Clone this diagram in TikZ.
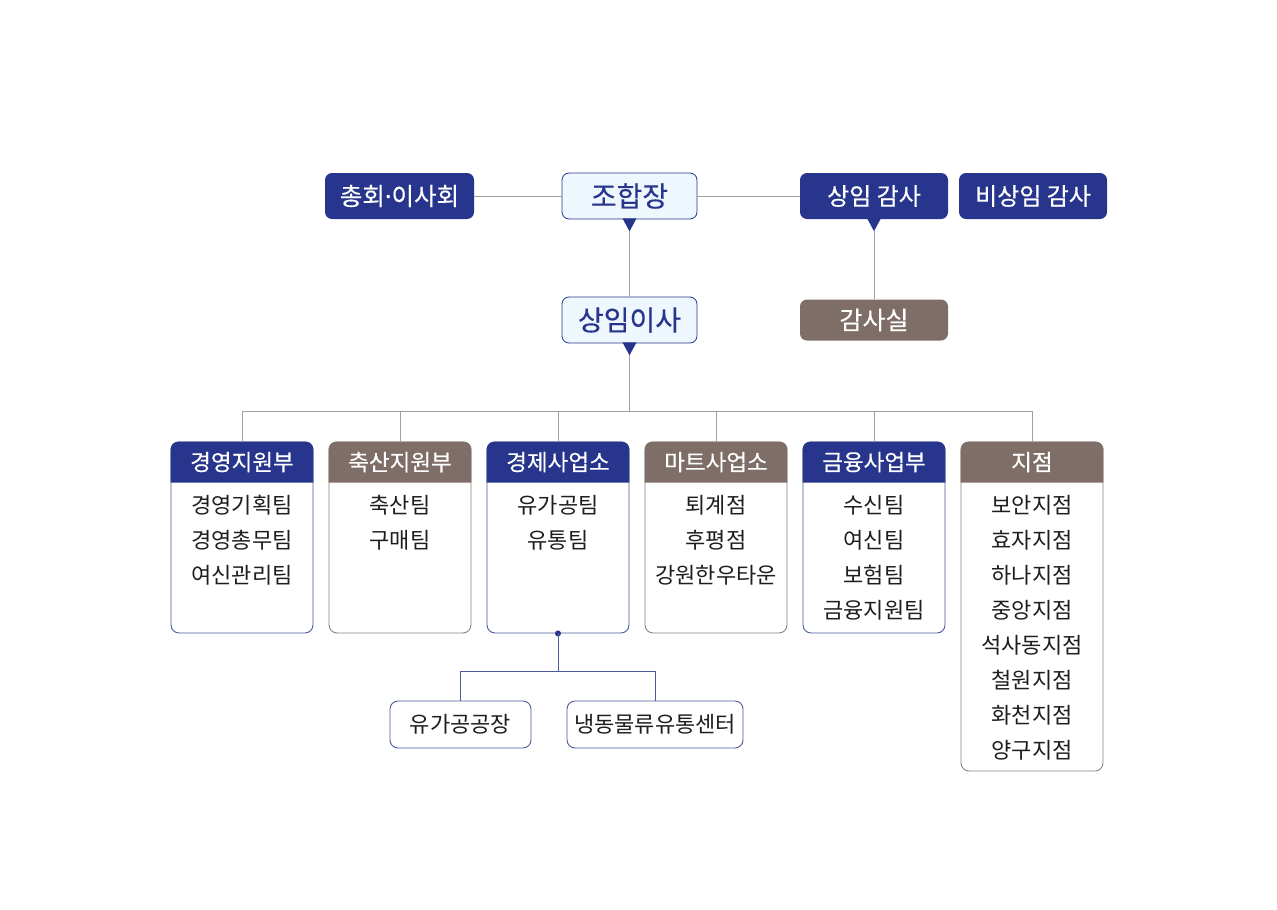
\documentclass[tikz,border=0pt]{standalone}
\usepackage{fontspec}
\setmainfont{Noto Sans CJK KR}
\newfontfamily\medf{Noto Sans CJK KR}[FakeBold=0.4]
\newfontfamily\latinf{Noto Sans}[FakeBold=0.4]
\usetikzlibrary{calc}
\definecolor{navy}{HTML}{27368C}
\definecolor{brownbox}{HTML}{7E6E67}
\definecolor{paleblue}{HTML}{EEF6FE}
\definecolor{linegray}{HTML}{A0A0A0}
\definecolor{navyline}{HTML}{4A5AA0}
\definecolor{brownline}{HTML}{8C807A}
\definecolor{txt}{HTML}{1E1E1E}
\begin{document}
\begin{tikzpicture}[x=1pt,y=-1pt,
  topbox/.style={rounded corners=7pt, minimum height=46pt, inner sep=0pt, text=white, font=\medf\fontsize{24}{28}\selectfont},
  navyfill/.style={topbox, fill=navy},
  brownfill/.style={topbox, fill=brownbox, minimum height=41pt},
  palebox/.style={rounded corners=7pt, minimum width=135pt, minimum height=46pt, inner sep=0pt, fill=paleblue, draw=navy, line width=0.8pt, text=navy, font=\medf\fontsize{28}{32}\selectfont},
  deptbody/.style={rounded corners=8pt, minimum width=142pt, inner sep=0pt, fill=white, line width=0.9pt},
  headtext/.style={text=white, inner sep=0pt, font=\medf\fontsize{22.5}{26}\selectfont},
  item/.style={text=txt, inner sep=0pt, font=\fontsize{22}{26}\selectfont},
  subbox/.style={rounded corners=8pt, minimum height=47pt, inner sep=0pt, fill=white, draw=navyline, line width=0.9pt, text=txt, font=\fontsize{22}{26}\selectfont},
  conn/.style={draw=linegray, line width=0.9pt},
  subconn/.style={draw=navyline, line width=0.9pt},
  tri/.style={fill=navy}
]
\useasboundingbox (0,0) rectangle (1277,910);

% top row
\node[navyfill, minimum width=149pt, font=\medf\fontsize{24.5}{28}\selectfont] (chong) at (399.5,196) {총회{\latinf·}이사회};
\node[palebox] (jo) at (629.5,196) {조합장};
\node[navyfill, minimum width=148pt] (sgam) at (874,196) {상임 감사};
\node[navyfill, minimum width=148pt] (bgam) at (1033,196) {비상임 감사};
\node[palebox] (sangi) at (629.5,320) {상임이사};
\node[brownfill, minimum width=148pt, font=\medf\fontsize{25}{28}\selectfont] (gamsa) at (874,320) {감사실};

% triangles
\coordinate (jotip) at ($(jo.south)+(0,12)$);
\coordinate (sgtip) at ($(sgam.south)+(0,12)$);
\coordinate (sitip) at ($(sangi.south)+(0,12)$);
\fill[tri] ($(jo.south)+(-7,-1)$) -- ($(jo.south)+(7,-1)$) -- (jotip) -- cycle;
\fill[tri] ($(sgam.south)+(-7,-1)$) -- ($(sgam.south)+(7,-1)$) -- (sgtip) -- cycle;
\fill[tri] ($(sangi.south)+(-7,-1)$) -- ($(sangi.south)+(7,-1)$) -- (sitip) -- cycle;

\draw[conn] (chong.east) -- (jo.west);
\draw[conn] (jo.east) -- (sgam.west);
\draw[conn] (jotip) -- (sangi.north);
\draw[conn] (sgtip) -- (gamsa.north);

% departments
\coordinate (bus) at (629.5,411);
\draw[conn] (sitip) -- (bus);

\foreach \i/\cx/\col/\dname/\bot/\bordercol in {
  1/242/navy/경영지원부/633/navyline,
  2/400/brownbox/축산지원부/633/brownline,
  3/558/navy/경제사업소/633/navyline,
  4/716/brownbox/마트사업소/633/brownline,
  5/874/navy/금융사업부/633/navyline,
  6/1032/brownbox/지점/771/brownline}{
  \pgfmathsetmacro{\hh}{\bot-442}
  \pgfmathsetmacro{\cy}{(\bot+442)/2}
  \node[deptbody, draw=\bordercol, minimum height=\hh pt] (d\i) at (\cx,\cy) {};
  \fill[\col] ($(d\i.north west)+(0,41)$) {[rounded corners=8pt] -- (d\i.north west) -- (d\i.north east)} -- ($(d\i.north east)+(0,41)$) -- cycle;
  \node[headtext] (h\i) at ($(d\i.north)+(0,20.5)$) {\dname};
  \draw[conn] (d\i.north) -- (d\i.north |- bus);
}
\draw[conn] (d1.north |- bus) -- (d6.north |- bus);

% items
\foreach \i/\list in {
  1/{경영기획팀,경영총무팀,여신관리팀},
  2/{축산팀,구매팀},
  3/{유가공팀,유통팀},
  4/{퇴계점,후평점,강원한우타운},
  5/{수신팀,여신팀,보험팀,금융지원팀},
  6/{보안지점,효자지점,하나지점,중앙지점,석사동지점,철원지점,화천지점,양구지점}}{
  \foreach \t [count=\k] in \list {
    \pgfmathsetmacro{\dy}{64+(\k-1)*34.9}
    \node[item] (it\i n\k) at ($(d\i.north)+(0,\dy)$) {\t};
  }
}

% sub units
\coordinate (dot) at (d3.south);
\fill[navy] (dot) circle (3pt);
\node[subbox, minimum width=141pt] (yugong) at (460.5,724.5) {유가공공장};
\node[subbox, minimum width=176pt] (naengdong) at (655,724.5) {냉동물류유통센터};
\coordinate (subbus) at ($(dot)+(0,38)$);
\draw[subconn] (dot) -- (subbus);
\draw[subconn] (yugong.north) |- (subbus) -| (naengdong.north);
\end{tikzpicture}
\end{document}
